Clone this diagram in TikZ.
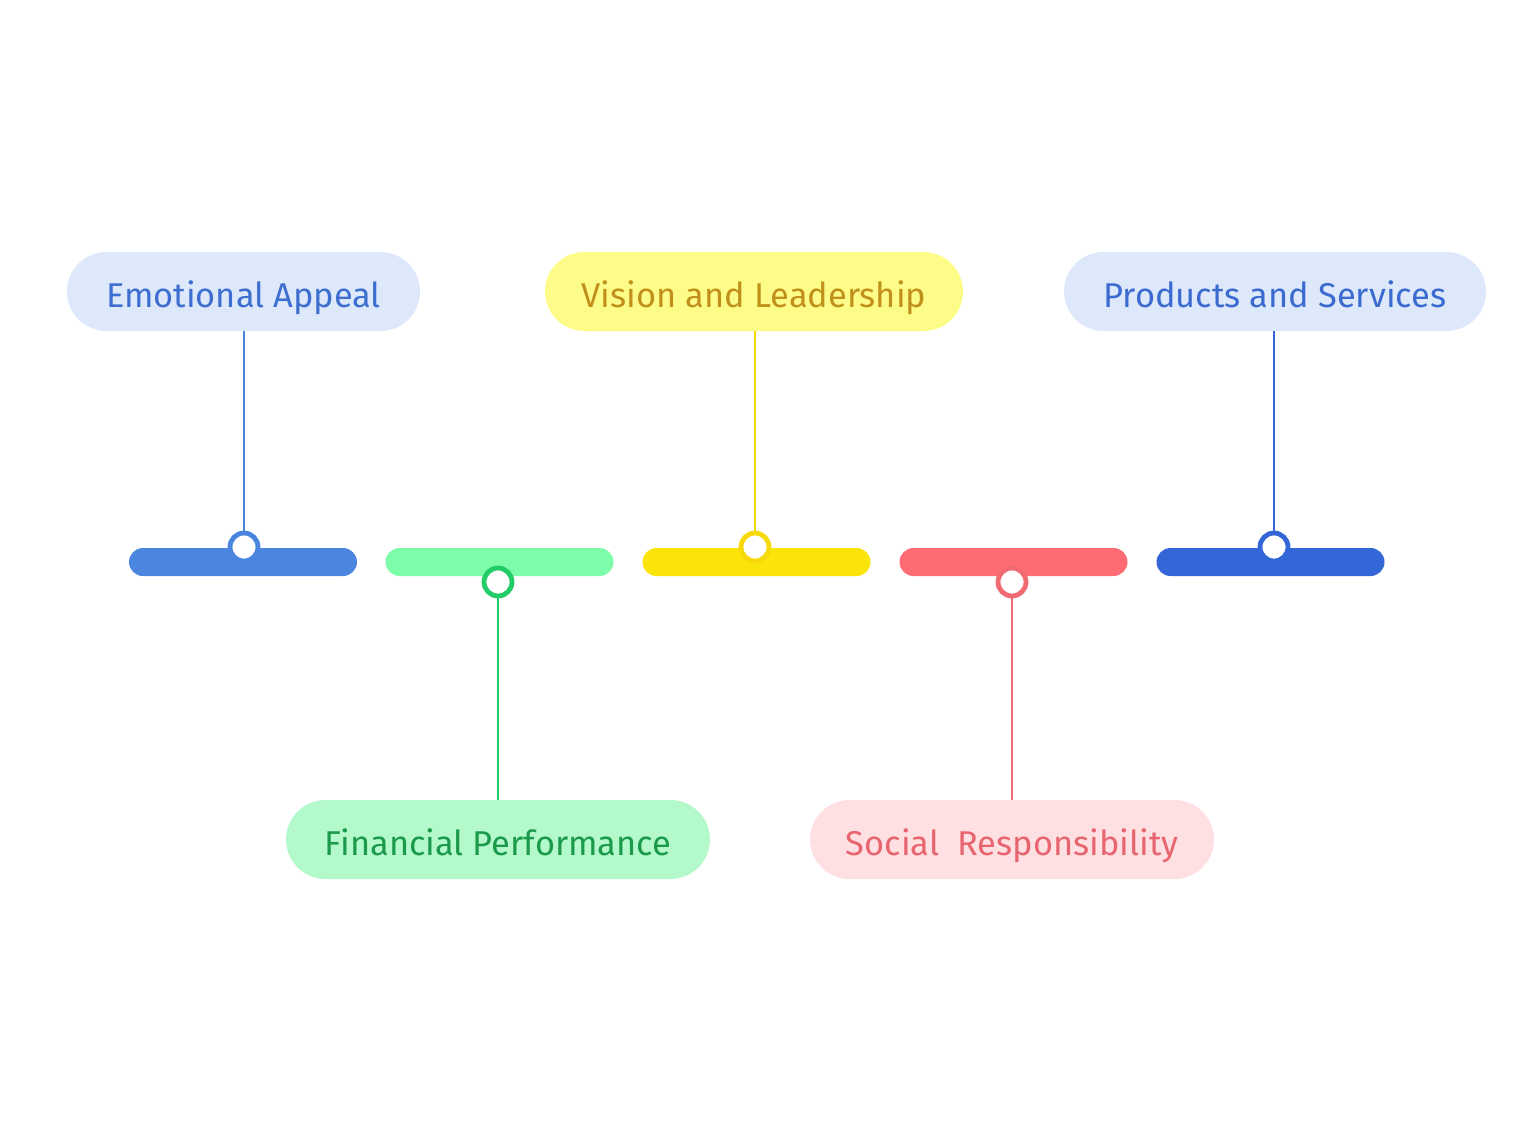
\documentclass[tikz,border=0pt]{standalone}
\usepackage{fontspec}
\setmainfont{Fira Sans}
\definecolor{bA}{HTML}{4A86E0}
\definecolor{pA}{HTML}{DDE8FA}
\definecolor{tA}{HTML}{3E6FD0}
\definecolor{bB}{HTML}{7DFDAA}
\definecolor{rB}{HTML}{22CC66}
\definecolor{pB}{HTML}{B3F9CC}
\definecolor{tB}{HTML}{1A9A4A}
\definecolor{bC}{HTML}{FBE40A}
\definecolor{rC}{HTML}{F7D90A}
\definecolor{pC}{HTML}{FDFC88}
\definecolor{tC}{HTML}{C0901A}
\definecolor{bD}{HTML}{FF6B73}
\definecolor{rD}{HTML}{F06A72}
\definecolor{pD}{HTML}{FEDFE2}
\definecolor{tD}{HTML}{E8656F}
\definecolor{bE}{HTML}{3366D6}
\definecolor{pE}{HTML}{DDE8FA}
\definecolor{tE}{HTML}{3B6BD0}
\tikzset{
  pill/.style={rectangle, rounded corners=19.75pt, minimum height=39.5pt, inner sep=0pt,
    text height=15.5pt, text depth=0pt, font=\fontsize{17.2pt}{20pt}\selectfont},
  bar/.style={rectangle, rounded corners=7pt, minimum width=114pt, minimum height=14pt, inner sep=0pt},
  dot/.style={circle, fill=white, line width=2.4pt, minimum size=14pt, inner sep=0pt},
  link/.style={line width=1.25pt}
}
\begin{document}
\begin{tikzpicture}[x=0.5pt,y=-0.5pt]
\useasboundingbox (0,0) rectangle (1536,1142);
% bars
\node[bar, fill=bA] (b1) at (243,562) {};
\node[bar, fill=bB] (b2) at (499.5,562) {};
\node[bar, fill=bC] (b3) at (756.5,562) {};
\node[bar, fill=bD] (b4) at (1013.5,562) {};
\node[bar, fill=bE] (b5) at (1270.5,562) {};
% pills
\node[pill, fill=pA, text=tA, minimum width=176.5pt] (p1) at (243.5,291.5) {Emotional Appeal};
\node[pill, fill=pC, text=tC, minimum width=209pt] (p3) at (754,291.5) {Vision and Leadership};
\node[pill, fill=pE, text=tE, minimum width=211pt] (p5) at (1275,291.5) {Products and Services};
\node[pill, fill=pB, text=tB, minimum width=212pt] (p2) at (498,839.5) {Financial Performance};
\node[pill, fill=pD, text=tD, minimum width=202pt] (p4) at (1012,839.5) {Social\ \ Responsibility};
% dots
\node[dot, draw=bA] (d1) at (244,547) {};
\node[dot, draw=rB] (d2) at (498,582) {};
\node[dot, draw=rC] (d3) at (755,547) {};
\node[dot, draw=rD] (d4) at (1012,582) {};
\node[dot, draw=bE] (d5) at (1274,547) {};
% links
\draw[link, draw=bA] (p1.south -| d1) -- (d1.north);
\draw[link, draw=rC] (p3.south -| d3) -- (d3.north);
\draw[link, draw=bE] (p5.south -| d5) -- (d5.north);
\draw[link, draw=rB] (d2.south) -- (p2.north -| d2);
\draw[link, draw=rD] (d4.south) -- (p4.north -| d4);
\end{tikzpicture}
\end{document}
